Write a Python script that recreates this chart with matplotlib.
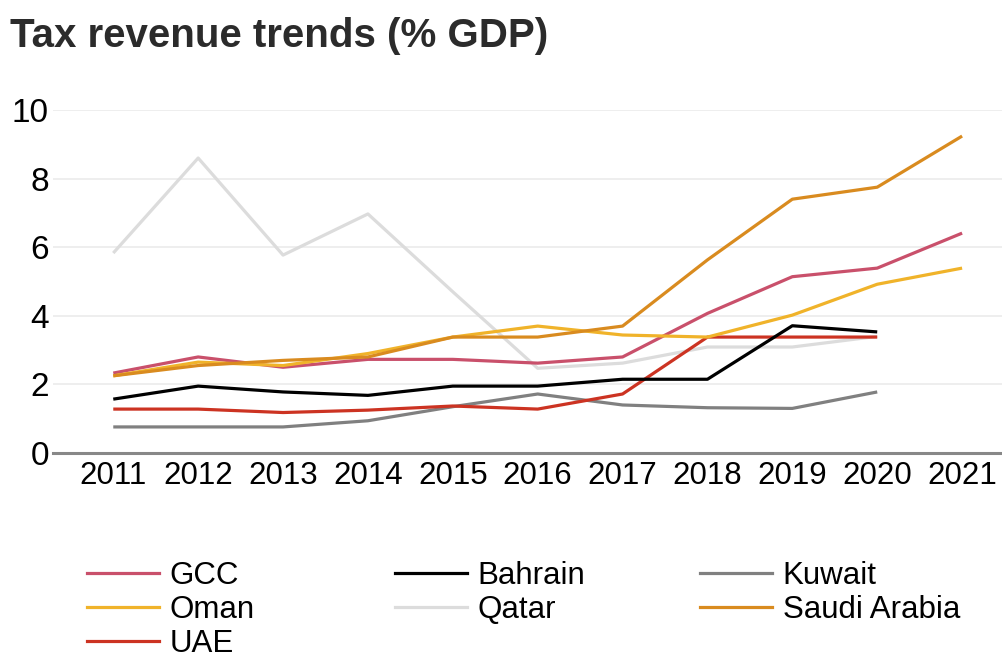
import matplotlib
matplotlib.use("Agg")
import matplotlib.pyplot as plt
from matplotlib.lines import Line2D

plt.rcParams['font.family'] = ['Liberation Sans', 'DejaVu Sans']

# Data (% of GDP)
years = [2011, 2012, 2013, 2014, 2015, 2016, 2017, 2018, 2019, 2020, 2021]
gcc = [2.33, 2.80, 2.50, 2.73, 2.73, 2.62, 2.80, 4.07, 5.14, 5.39, 6.41]
bahrain = [1.57, 1.95, 1.78, 1.68, 1.95, 1.95, 2.15, 2.15, 3.71, 3.53]
kuwait = [0.76, 0.76, 0.76, 0.94, 1.35, 1.72, 1.40, 1.32, 1.30, 1.78]
oman = [2.25, 2.65, 2.55, 2.90, 3.38, 3.70, 3.44, 3.38, 4.02, 4.92, 5.39]
qatar = [5.83, 8.60, 5.77, 6.97, 4.70, 2.47, 2.62, 3.09, 3.09, 3.40]
saudi = [2.25, 2.55, 2.70, 2.80, 3.38, 3.38, 3.70, 5.63, 7.40, 7.75, 9.24]
uae = [1.28, 1.28, 1.18, 1.25, 1.37, 1.28, 1.72, 3.38, 3.38, 3.38]

series = [
    ("GCC", gcc, "#c9506b"),
    ("Bahrain", bahrain, "#000000"),
    ("Kuwait", kuwait, "#808080"),
    ("Oman", oman, "#f0b32a"),
    ("Qatar", qatar, "#dcdcdc"),
    ("Saudi Arabia", saudi, "#d98b1f"),
    ("UAE", uae, "#cc3322"),
]
# draw order so the light Qatar line sits underneath
draw_order = ["Qatar", "Kuwait", "UAE", "Bahrain", "GCC", "Oman", "Saudi Arabia"]

fig = plt.figure(figsize=(10.03, 6.57), dpi=100)
ax = fig.add_axes([53 / 1003, 1 - 453 / 657, 949 / 1003, 343 / 657])

lookup = {name: (vals, col) for name, vals, col in series}
for name in draw_order:
    vals, col = lookup[name]
    ax.plot(years[:len(vals)], vals, color=col, lw=2.3, solid_capstyle='butt',
            zorder=3)

ax.set_xlim(2010.29, 2021.47)
ax.set_ylim(0, 10)
ax.set_xticks(years)
ax.set_yticks([0, 2, 4, 6, 8, 10])
ax.tick_params(axis='x', length=0, labelsize=22.5, pad=6)
ax.tick_params(axis='y', length=0, labelsize=24, pad=3)
for s in ['top', 'right', 'left']:
    ax.spines[s].set_visible(False)
ax.spines['bottom'].set_color('#888888')
ax.spines['bottom'].set_linewidth(2.2)
ax.grid(axis='y', color='#ebebeb', lw=1.2, zorder=0)
ax.set_axisbelow(True)

fig.text(10 / 1003, 1 - 36 / 657, "Tax revenue trends (% GDP)", fontsize=29,
         fontweight='bold', color='#2b2b2b', va='center', ha='left')

# legend laid out in three fixed columns, filled row by row
handles = {name: Line2D([], [], color=col, lw=2.3) for name, _, col in series}
columns = [["GCC", "Oman", "UAE"], ["Bahrain", "Qatar"], ["Kuwait", "Saudi Arabia"]]
col_x = [87, 395, 700]
for names, x in zip(columns, col_x):
    leg = fig.legend([handles[n] for n in names], names, loc='upper left',
                     bbox_to_anchor=(x / 1003, 1 - 561 / 657), frameon=False,
                     fontsize=22.5, handlelength=2.3, handletextpad=0.35,
                     labelspacing=0.12, borderaxespad=0, borderpad=0)

fig.savefig("out.png", dpi=100, facecolor='white')
